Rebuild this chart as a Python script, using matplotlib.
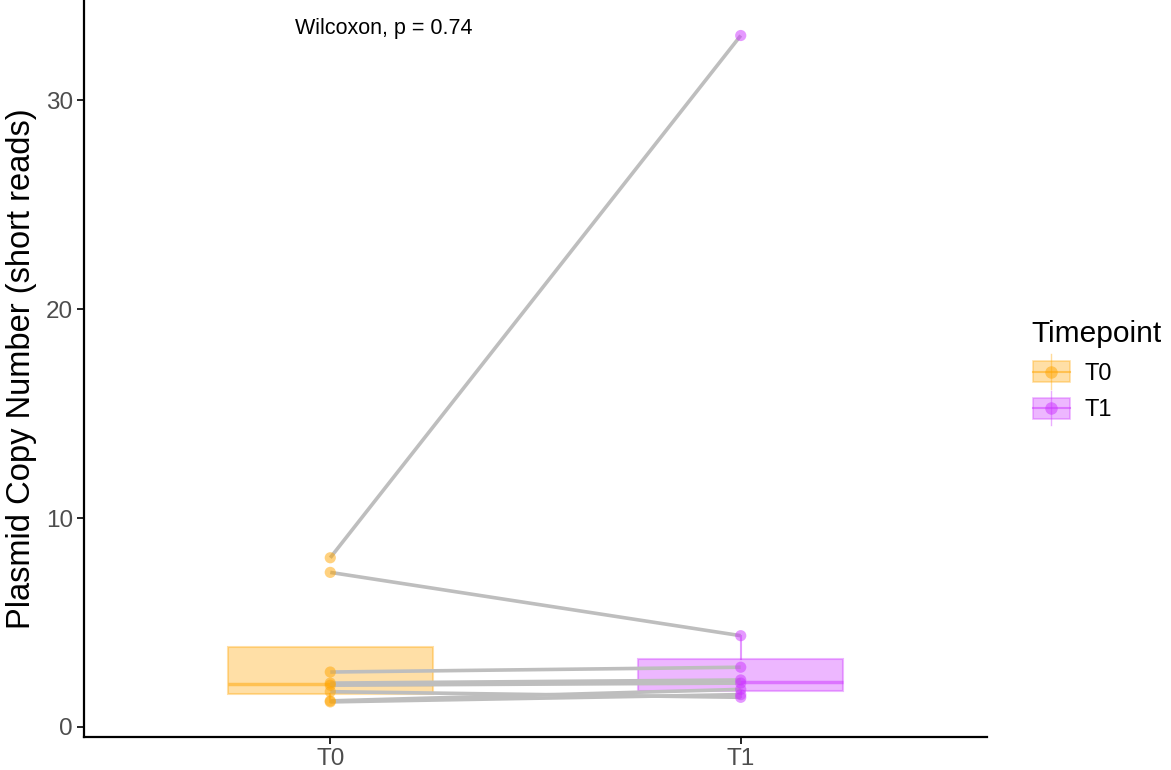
import matplotlib
matplotlib.use("Agg")
import matplotlib.pyplot as plt
from matplotlib.legend_handler import HandlerBase
from matplotlib.patches import Rectangle
from matplotlib.lines import Line2D
import numpy as np

plt.rcParams['font.family'] = ['Liberation Sans', 'DejaVu Sans']

# Paired plasmid copy numbers per sample
timepoints = ["T0", "T1"]
t0_values = [8.1, 7.4, 2.63, 2.1, 2.0, 1.69, 1.25, 1.2]
t1_values = [33.1, 4.37, 2.86, 2.25, 2.1, 1.42, 1.8, 1.55]
colors = {"T0": "#FFA500", "T1": "#CC33FF"}
p_label = "Wilcoxon, p = 0.74"

fig = plt.figure(figsize=(11.71, 7.70), dpi=100)
ax = fig.add_axes([84 / 1171, 33 / 770, (987 - 84) / 1171, (770 - 33) / 770])

groups = [t0_values, t1_values]
for i, (tp, vals) in enumerate(zip(timepoints, groups)):
    c = colors[tp]
    ax.boxplot([vals], positions=[i + 1], widths=0.5, patch_artist=True,
               showfliers=False, whis=1.5, manage_ticks=False,
               boxprops=dict(facecolor=c, edgecolor=c, alpha=0.35, linewidth=1.5),
               medianprops=dict(color=c, alpha=0.5, linewidth=2.5),
               whiskerprops=dict(color=c, alpha=0.5, linewidth=1.5),
               capprops=dict(linewidth=0), zorder=1)

# Lines joining each sample across timepoints
for a, b in zip(t0_values, t1_values):
    ax.plot([1, 2], [a, b], color="#BEBEBE", linewidth=2.6, zorder=2,
            solid_capstyle="butt")

for i, (tp, vals) in enumerate(zip(timepoints, groups)):
    ax.scatter(np.full(len(vals), i + 1), vals, s=65, color=colors[tp],
               alpha=0.5, edgecolors="none", zorder=3)

ax.text(1.13, 33.45, p_label, ha="center", va="center", fontsize=15.5,
        color="black")

ax.set_xlim(0.4, 2.6)
ax.set_ylim(-0.48, 34.8)
ax.set_xticks([1, 2])
ax.set_xticklabels(timepoints)
ax.set_yticks([0, 10, 20, 30])
ax.tick_params(axis="both", colors="black", labelcolor="#4D4D4D",
               labelsize=17.5, length=5, width=1.2, pad=3)
ax.set_ylabel("Plasmid Copy Number (short reads)", fontsize=23.5, labelpad=6)
for side in ("top", "right"):
    ax.spines[side].set_visible(False)
for side in ("left", "bottom"):
    ax.spines[side].set_linewidth(1.6)
    ax.spines[side].set_color("black")


class BoxKeyHandler(HandlerBase):
    def create_artists(self, legend, orig_handle, xdescent, ydescent,
                       width, height, fontsize, trans):
        c = orig_handle.get_color()
        cx = width / 2 - xdescent
        cy = height / 2 - ydescent
        rect = Rectangle((-xdescent + 1, -ydescent + 1), width - 2, height - 2,
                         facecolor=c, edgecolor=c, alpha=0.35, lw=1.2,
                         transform=trans)
        med = Line2D([-xdescent + 1, width - xdescent - 1], [cy, cy], color=c,
                     alpha=0.5, lw=1.5, transform=trans)
        wh = Line2D([cx, cx], [-ydescent - 4, height - ydescent + 4], color=c,
                    alpha=0.4, lw=1.0, transform=trans)
        pt = Line2D([cx], [cy], marker="o", ms=9, color=c, alpha=0.5, ls="none",
                    markeredgewidth=0, transform=trans)
        return [wh, rect, med, pt]


handles = [Line2D([], [], color=colors[tp]) for tp in timepoints]
leg = fig.legend(handles, timepoints, title="Timepoint", loc="upper left",
                 bbox_to_anchor=(1017 / 1171, 1 - 306 / 770), frameon=False,
                 fontsize=17, title_fontsize=21.5, handlelength=1.7,
                 handleheight=1.15, labelspacing=0.5, handletextpad=0.55,
                 borderaxespad=0.2,
                 handler_map={Line2D: BoxKeyHandler()})
leg._legend_box.align = "left"

fig.savefig("out.png", dpi=100)
